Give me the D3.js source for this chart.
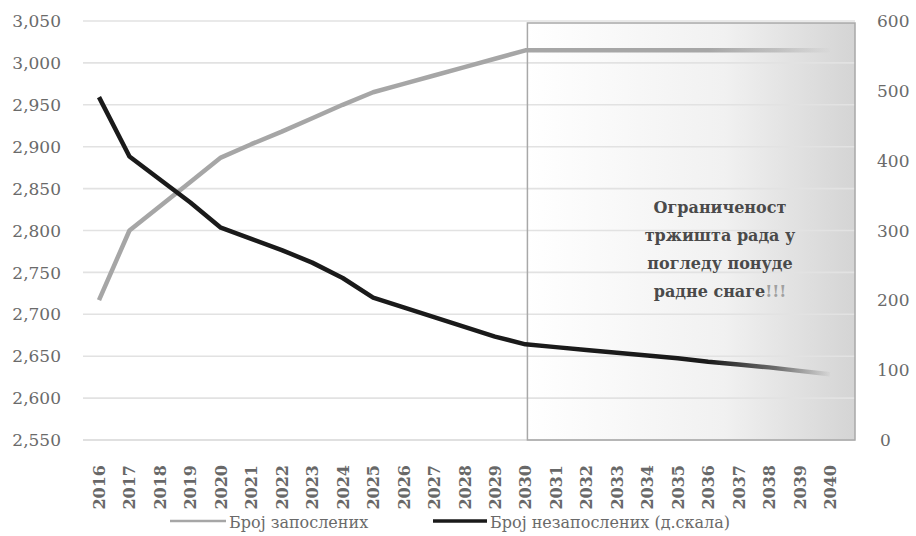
<!DOCTYPE html>
<html>
<head>
<meta charset="utf-8">
<script src="https://cdn.jsdelivr.net/npm/d3@7"></script>
<style>
  html, body { margin: 0; padding: 0; background: #ffffff; }
  svg { display: block; }
</style>
</head>
<body>
<div class="chart"></div>
<script>
/* Years on the x axis */
var years = [2016, 2017, 2018, 2019, 2020, 2021, 2022, 2023, 2024, 2025, 2026, 2027,
             2028, 2029, 2030, 2031, 2032, 2033, 2034, 2035, 2036, 2037, 2038, 2039, 2040];

/* Број запослених (left scale, thousands) */
var employed = [2717, 2800, 2829, 2858, 2887, 2903, 2918, 2934, 2950, 2965, 2975, 2985,
                2995, 3005, 3015, 3015, 3015, 3015, 3015, 3015, 3015, 3015, 3015, 3015, 3015];

/* Број незапослених (right scale, thousands) */
var unemployed = [491, 406, 373, 340, 304, 288, 272, 254, 232, 204, 190, 176,
                  162, 148, 137, 133, 129, 125, 121, 117, 112, 108, 104, 99, 94];

var leftTicks = [2550, 2600, 2650, 2700, 2750, 2800, 2850, 2900, 2950, 3000, 3050];
var rightTicks = [0, 100, 200, 300, 400, 500, 600];

var legendNames = ["Број запослених", "Број незапослених (д.скала)"];
var noteLines = ["Ограниченост", "тржишта рада у", "погледу понуде", "радне снаге"];
var boxStartYear = 2030;

var WIDTH = 916;
var HEIGHT = 536;
var PLOT_LEFT = 83;
var PLOT_RIGHT = 855;
var PLOT_TOP = 21;
var PLOT_BOTTOM = 440;
var SERIF = "'DejaVu Serif', serif";

var svg = d3.select("div.chart")
            .append("svg")
            .attr("width", WIDTH)
            .attr("height", HEIGHT);

var x = d3.scalePoint().domain(years).range([99, 830]);
var yLeft = d3.scaleLinear().domain([2550, 3050]).range([PLOT_BOTTOM, PLOT_TOP]);
var yRight = d3.scaleLinear().domain([0, 600]).range([PLOT_BOTTOM, PLOT_TOP]);

var defs = svg.append("defs");

/* shading of the "limited labour market" box */
var boxGrad = defs.append("linearGradient")
                  .attr("id", "boxGrad")
                  .attr("x1", "0").attr("y1", "0")
                  .attr("x2", "1").attr("y2", "0");
boxGrad.append("stop").attr("offset", "0").attr("stop-color", "#ffffff");
boxGrad.append("stop").attr("offset", "0.6").attr("stop-color", "#f1f1f1");
boxGrad.append("stop").attr("offset", "1").attr("stop-color", "#d4d4d4");

/* the two lines fade out towards the end */
function fadeGradient(id, color) {
  var g = defs.append("linearGradient")
              .attr("id", id)
              .attr("gradientUnits", "userSpaceOnUse")
              .attr("x1", x(2036)).attr("y1", 0)
              .attr("x2", x(2040) + 2).attr("y2", 0);
  g.append("stop").attr("offset", "0").attr("stop-color", color).attr("stop-opacity", 1);
  g.append("stop").attr("offset", "0.55").attr("stop-color", color).attr("stop-opacity", 0.6);
  g.append("stop").attr("offset", "1").attr("stop-color", color).attr("stop-opacity", 0);
}
fadeGradient("fadeGray", "#a6a6a6");
fadeGradient("fadeBlack", "#1a1a1a");

/* shaded box */
var boxX = x(boxStartYear) + 2;
svg.append("rect")
   .attr("x", boxX)
   .attr("y", PLOT_TOP + 2)
   .attr("width", PLOT_RIGHT - boxX)
   .attr("height", PLOT_BOTTOM - PLOT_TOP - 2)
   .attr("fill", "url(#boxGrad)");

/* gridlines */
svg.append("g")
   .selectAll("line")
   .data(leftTicks)
   .enter()
   .append("line")
   .attr("x1", PLOT_LEFT)
   .attr("x2", PLOT_RIGHT)
   .attr("y1", function (d) { return yLeft(d); })
   .attr("y2", function (d) { return yLeft(d); })
   .attr("stroke", function (d) { return d === 2550 ? "#d6d6d6" : "#e2e2e2"; })
   .attr("stroke-width", 1.6);

/* box border on top of the gridlines */
svg.append("rect")
   .attr("x", boxX)
   .attr("y", PLOT_TOP + 2)
   .attr("width", PLOT_RIGHT - boxX)
   .attr("height", PLOT_BOTTOM - PLOT_TOP - 2)
   .attr("fill", "none")
   .attr("stroke", "#a8a8a8")
   .attr("stroke-width", 1.5);

/* left axis labels */
svg.append("g")
   .selectAll("text")
   .data(leftTicks)
   .enter()
   .append("text")
   .attr("x", 61)
   .attr("y", function (d) { return yLeft(d); })
   .attr("dy", "0.36em")
   .attr("text-anchor", "end")
   .attr("font-family", SERIF)
   .attr("font-size", 17)
   .attr("fill", "#6a6a6a")
   .text(function (d) { return d3.format(",")(d); });

/* right axis labels */
svg.append("g")
   .selectAll("text")
   .data(rightTicks)
   .enter()
   .append("text")
   .attr("x", function (d) { return d === 0 ? 880 : 877; })
   .attr("y", function (d) { return yRight(d); })
   .attr("dy", "0.36em")
   .attr("font-family", SERIF)
   .attr("font-size", 17)
   .attr("fill", "#6a6a6a")
   .text(function (d) { return d; });

/* x axis year labels, rotated */
svg.append("g")
   .selectAll("text")
   .data(years)
   .enter()
   .append("text")
   .attr("transform", function (d) {
     return "translate(" + (x(d) + 6) + ",465) rotate(-90)";
   })
   .attr("text-anchor", "end")
   .attr("font-family", SERIF)
   .attr("font-weight", "bold")
   .attr("font-size", 16)
   .attr("fill", "#686868")
   .text(function (d) { return d; });

/* series lines */
var lineLeft = d3.line()
                 .x(function (d, i) { return x(years[i]); })
                 .y(function (d) { return yLeft(d); });
var lineRight = d3.line()
                  .x(function (d, i) { return x(years[i]); })
                  .y(function (d) { return yRight(d); });

svg.append("path")
   .datum(employed)
   .attr("d", lineLeft)
   .attr("fill", "none")
   .attr("stroke", "url(#fadeGray)")
   .attr("stroke-width", 4.5)
   .attr("stroke-linejoin", "round");

svg.append("path")
   .datum(unemployed)
   .attr("d", lineRight)
   .attr("fill", "none")
   .attr("stroke", "url(#fadeBlack)")
   .attr("stroke-width", 4.5)
   .attr("stroke-linejoin", "round");

/* note inside the box */
var note = svg.append("text")
              .attr("text-anchor", "middle")
              .attr("font-family", SERIF)
              .attr("font-weight", "bold")
              .attr("font-size", 16)
              .attr("fill", "#4a4a4a");
noteLines.forEach(function (line, i) {
  note.append("tspan")
      .attr("x", 720)
      .attr("y", 213 + i * 28)
      .text(line);
  if (i === noteLines.length - 1) {
    note.append("tspan").attr("fill", "#a0a0a0").text("!!!");
  }
});

/* legend */
var legendItems = [
  { name: legendNames[0], color: "#a6a6a6", x1: 170, x2: 226, width: 2.5 },
  { name: legendNames[1], color: "#1a1a1a", x1: 433, x2: 487, width: 3.5 }
];
legendItems.forEach(function (item) {
  svg.append("line")
     .attr("x1", item.x1).attr("x2", item.x2)
     .attr("y1", 521).attr("y2", 521)
     .attr("stroke", item.color)
     .attr("stroke-width", item.width);
  svg.append("text")
     .attr("x", item.x2 + 3)
     .attr("y", 522)
     .attr("dy", "0.36em")
     .attr("font-family", SERIF)
     .attr("font-size", 16)
     .attr("fill", "#6a6a6a")
     .text(item.name);
});
</script>
</body>
</html>
